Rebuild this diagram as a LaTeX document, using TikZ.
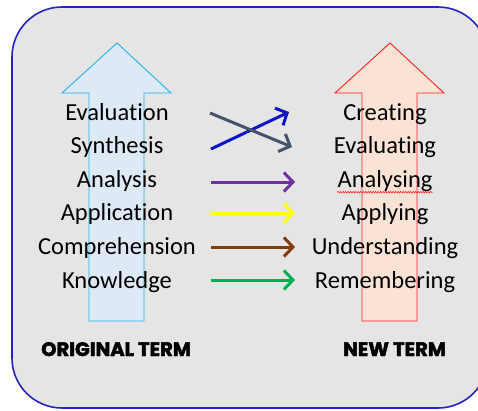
\documentclass[tikz,border=0pt]{standalone}
\usepackage{fontspec}
\setmainfont{Carlito}[Ligatures=NoCommon]
\newfontfamily\headfont{Poppins}[FakeBold=2.4]
\usepackage{tikz}
\usetikzlibrary{arrows.meta,decorations.pathmorphing}
\definecolor{panel}{HTML}{E5E5E5}
\definecolor{frame}{HTML}{2424C4}
\definecolor{oldline}{HTML}{1CB4EE}
\definecolor{oldfill}{HTML}{DDEAF6}
\definecolor{newline}{HTML}{FF2020}
\definecolor{newfill}{HTML}{FAE3D5}
\definecolor{slate}{HTML}{44546A}
\definecolor{deepblue}{HTML}{0A14C8}
\definecolor{violet}{HTML}{7030A0}
\definecolor{lemon}{HTML}{FFFF00}
\definecolor{rust}{HTML}{843C0C}
\definecolor{leaf}{HTML}{00B050}
\tikzset{link/.style={line width=3pt, -{Straight Barb[length=9pt,width=19pt,line width=3pt]}}}

\begin{document}
\begin{tikzpicture}[x=1pt,y=-1pt]
		\clip (0,0) rectangle (478,410);
		\useasboundingbox (0,0) rectangle (478,410);
		\draw[frame, fill=panel, line width=1.6pt, rounded corners=50pt] (12,7) rectangle (488,408);

		\draw[oldline, fill=oldfill, line width=0.9pt] (89,321) -- (89,93) -- (62,93) -- (117,43) -- (171,93) -- (144,93) -- (144,321) -- cycle;
		\draw[newline, fill=newfill, line width=0.9pt] (362,321) -- (362,93) -- (335,93) -- (390,43) -- (444,93) -- (417,93) -- (417,321) -- cycle;

		\begin{scope}[every node/.append style={font=\fontsize{24.5}{29}\selectfont, inner sep=0pt, anchor=base}]
			\node (o1) at (117, 120) {Evaluation};
			\node (o2) at (117, 153.6) {Synthesis};
			\node (o3) at (117, 187.2) {Analysis};
			\node (o4) at (117, 220.8) {Application};
			\node (o5) at (117, 254.4) {Comprehension};
			\node (o6) at (117, 288) {Knowledge};
			\node (n1) at (385, 120) {Creating};
			\node (n2) at (385, 153.6) {Evaluating};
			\node (n3) at (385, 187.2) {Analysing};
			\node (n4) at (385, 220.8) {Applying};
			\node (n5) at (385, 254.4) {Understanding};
			\node (n6) at (385, 288) {Remembering};
		\end{scope}

		\begin{scope}[every node/.append style={font=\headfont\bfseries\fontsize{19.5}{23}\selectfont, inner sep=0pt, anchor=base}]
			\node (ot) at (116, 356) {ORIGINAL TERM};
			\node (nt) at (394.5, 356) {NEW TERM};
		\end{scope}

		\draw[newline, line width=0.6pt, decorate, decoration={snake, amplitude=0.8pt, segment length=2.5pt}] (n3.base west) ++(0,5) coordinate (w1) (n3.base east) ++(0,5) coordinate (w2) (w1) -- (w2);

		\coordinate (s1) at (210,113);
		\coordinate (t1) at (292,147);
		\coordinate (s2) at (211,149);
		\coordinate (t2) at (289,112);
		\foreach \i/\py in {3/182, 4/213, 5/247, 6/280} {
			\coordinate (s\i) at (211,\py);
			\coordinate (t\i) at (295,\py);
		}

		\draw[link, deepblue] (s2) -- (t2);
		\draw[link, slate] (s1) -- (t1);
		\draw[link, violet] (s3) -- (t3);
		\draw[link, lemon] (s4) -- (t4);
		\draw[link, rust] (s5) -- (t5);
		\draw[link, leaf] (s6) -- (t6);
	\end{tikzpicture}
\end{document}
